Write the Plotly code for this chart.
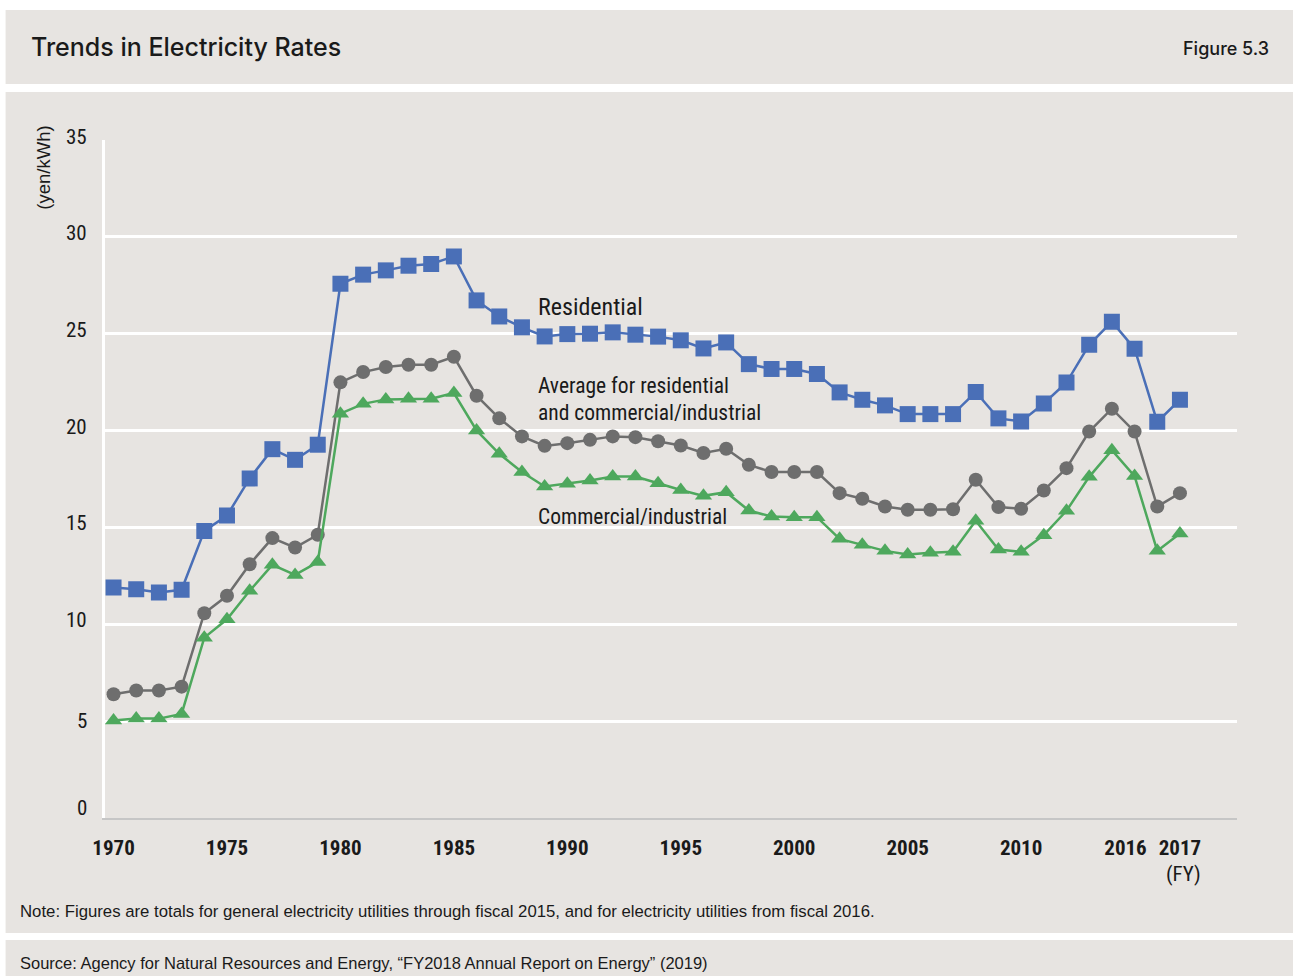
import plotly.graph_objects as go

# ---------------- data ----------------
years = list(range(1970, 2018))

residential = [11.90, 11.81, 11.64, 11.78, 14.82, 15.61, 17.53, 19.04, 18.49, 19.27,
               27.58, 28.05, 28.27, 28.51, 28.60, 28.99, 26.72, 25.89, 25.33, 24.86,
               24.98, 25.00, 25.07, 24.95, 24.85, 24.66, 24.24, 24.55, 23.43, 23.18,
               23.18, 22.92, 21.97, 21.59, 21.30, 20.85, 20.85, 20.85, 21.99, 20.63,
               20.47, 21.40, 22.48, 24.43, 25.62, 24.23, 20.45, 21.59]

average = [6.39, 6.58, 6.58, 6.78, 10.57, 11.47, 13.10, 14.45, 13.96, 14.62,
           22.49, 23.02, 23.28, 23.40, 23.40, 23.81, 21.80, 20.63, 19.70, 19.21,
           19.35, 19.52, 19.70, 19.66, 19.45, 19.23, 18.84, 19.06, 18.23, 17.86,
           17.86, 17.86, 16.77, 16.48, 16.08, 15.91, 15.91, 15.94, 17.46, 16.05,
           15.96, 16.91, 18.06, 19.95, 21.13, 19.95, 16.08, 16.77]

commercial = [5.03, 5.13, 5.13, 5.37, 9.31, 10.26, 11.73, 13.07, 12.55, 13.21,
              20.87, 21.38, 21.61, 21.64, 21.64, 21.94, 20.01, 18.80, 17.86, 17.11,
              17.25, 17.42, 17.63, 17.63, 17.28, 16.93, 16.63, 16.82, 15.87, 15.56,
              15.53, 15.53, 14.41, 14.10, 13.79, 13.60, 13.69, 13.74, 15.34, 13.86,
              13.74, 14.60, 15.86, 17.61, 18.99, 17.65, 13.79, 14.69]

x_tick_vals = [1970, 1975, 1980, 1985, 1990, 1995, 2000, 2005, 2010, 2014.6, 2017]
x_tick_text = ["1970", "1975", "1980", "1985", "1990", "1995", "2000", "2005", "2010", "2016", "2017"]
y_tick_vals = [0, 5, 10, 15, 20, 25, 30, 35]
y_tick_text = ["0", "5", "10", "15", "20", "25", "30", "35"]

label_residential = "Residential"
label_average = ["Average for residential", "and commercial/industrial"]
label_commercial = "Commercial/industrial"

# ---------------- style ----------------
W, H = 1293, 976
X0, PW = 13.4, 1277.6      # observed horizontal placement of the rendered paper
BG = "#e7e4e1"
BLUE = "#4a6fb7"
GRAY = "#6e6e6e"
GREEN = "#4ea85d"
COND = "Roboto Condensed, Liberation Sans Narrow, Arial Narrow, sans-serif"
SANS = "Liberation Sans, Arial, sans-serif"
TXT = "#1a1a1a"

def px_x(p):
    return (p - X0) / PW

def px_y(p):
    return 1 - p / H

fig = go.Figure()

fig.add_trace(go.Scatter(x=years, y=residential, mode="lines+markers", name="Residential",
                         line=dict(color=BLUE, width=2.5),
                         marker=dict(symbol="square", size=16, color=BLUE)))
fig.add_trace(go.Scatter(x=years, y=average, mode="lines+markers", name="Average",
                         line=dict(color=GRAY, width=2.5),
                         marker=dict(symbol="circle", size=14, color=GRAY)))
fig.add_trace(go.Scatter(x=years, y=commercial, mode="lines+markers", name="Commercial/industrial",
                         line=dict(color=GREEN, width=2.5),
                         marker=dict(symbol="triangle-up", size=15, color=GREEN)))

shapes = [
    dict(type="rect", xref="paper", yref="paper", x0=px_x(7), x1=1.02, y0=px_y(84), y1=px_y(10),
         fillcolor=BG, line=dict(width=0), layer="below"),
    dict(type="rect", xref="paper", yref="paper", x0=px_x(7), x1=1.02, y0=px_y(933), y1=px_y(92),
         fillcolor=BG, line=dict(width=0), layer="below"),
    dict(type="rect", xref="paper", yref="paper", x0=px_x(7), x1=1.02, y0=0, y1=px_y(940),
         fillcolor=BG, line=dict(width=0), layer="below"),
]

def ann(text, x, y, size, family=COND, xanchor="left", **kw):
    d = dict(text=text, xref="paper", yref="paper", x=px_x(x), y=px_y(y),
             xanchor=xanchor, yanchor="middle", showarrow=False,
             font=dict(family=family, size=size, color=TXT, weight=kw.pop("weight", "normal")))
    d.update(kw)
    return d

annotations = [
    ann("Trends in Electricity Rates", 30, 47, 25, family="Inter, sans-serif", weight=500),
    ann("Figure 5.3", 1269, 48, 18, family="Inter, sans-serif", xanchor="right", weight=500),
    ann("(yen/kWh)", 45, 168, 18.5, family=SANS, xanchor="center", textangle=-90),
    ann("(FY)", 1182, 874, 21, xanchor="center"),
    ann(label_residential, 536, 307, 24),
    ann(label_average[0], 536, 386, 21.5),
    ann(label_average[1], 536, 413, 21.5),
    ann(label_commercial, 536, 516, 21.5),
    ann("Note: Figures are totals for general electricity utilities through fiscal 2015, and for electricity utilities from fiscal 2016.",
        19.5, 911, 16.75, family=SANS),
    ann("Source: Agency for Natural Resources and Energy, \u201cFY2018 Annual Report on Energy\u201d (2019)",
        19.5, 963, 16.5, family=SANS),
]

# y tick labels as annotations (the reference raises them slightly above the gridlines)
y_label_shift = [10, 0, 4, 4, 4, 4, 4, 3]
for v, t, s in zip(y_tick_vals, y_tick_text, y_label_shift):
    annotations.append(dict(text=t, xref="paper", yref="y", x=px_x(90), y=v, yshift=s,
                            xanchor="right", yanchor="middle", showarrow=False,
                            font=dict(family=COND, size=21, color=TXT)))

fig.update_layout(
    width=W, height=H, autosize=False,
    margin=dict(l=0, r=0, t=0, b=0, pad=0),
    paper_bgcolor="white", plot_bgcolor="rgba(0,0,0,0)",
    showlegend=False,
    shapes=shapes, annotations=annotations,
    xaxis=dict(domain=[px_x(106), px_x(1235.5)], range=[1969.617, 2019.53],
               tickmode="array", tickvals=x_tick_vals, ticktext=x_tick_text,
               tickfont=dict(family=COND, size=21, color=TXT, weight="bold"),
               ticks="outside", ticklen=10, tickcolor="rgba(0,0,0,0)",
               showgrid=False, zeroline=False,
               showline=True, linecolor="#c6c6c6", linewidth=1.5),
    yaxis=dict(domain=[px_y(818), px_y(140)], range=[0, 35],
               tickmode="array", tickvals=y_tick_vals, showticklabels=False,
               showgrid=True, gridcolor="white", gridwidth=2.5, zeroline=False,
               showline=True, linecolor="white", linewidth=3, ticks=""),
)

fig.write_html("out.html")
